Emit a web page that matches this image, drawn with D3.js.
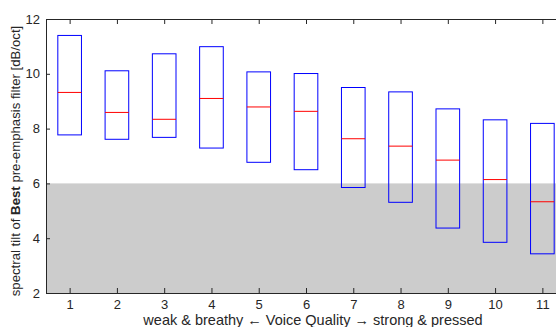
<!DOCTYPE html>
<html>
<head>
<meta charset="utf-8">
<script src="https://cdn.jsdelivr.net/npm/d3@7"></script>
<style>
  body { margin: 0; background: #fff; }
  svg { display: block; font-family: "Liberation Sans", Arial, sans-serif; }
</style>
</head>
<body>
<svg class="chart" width="556" height="327"></svg>
<script>
// Voice quality levels 1..11
const levels = [1, 2, 3, 4, 5, 6, 7, 8, 9, 10, 11];
// Box quartiles and medians [dB/oct]
const upper = [11.40, 10.11, 10.73, 10.99, 10.07, 10.01, 9.50, 9.34, 8.72, 8.32, 8.19];
const median = [9.32, 8.59, 8.34, 9.10, 8.79, 8.63, 7.63, 7.36, 6.85, 6.14, 5.33];
const lower = [7.77, 7.61, 7.68, 7.29, 6.77, 6.50, 5.85, 5.31, 4.37, 3.85, 3.43];
// Shaded band
const band = [2, 6];
const yTicks = [2, 4, 6, 8, 10, 12];

const margin = { top: 19, right: -10, bottom: 34, left: 46 };
const width = 556 - margin.left - margin.right;
const height = 327 - margin.top - margin.bottom;
const ink = '#262626';

const xScale = d3.scaleLinear().domain([0.5, 11.5]).range([0, width]);
const yScale = d3.scaleLinear().domain([2, 12]).range([height, 0]);
const boxHalf = xScale(1.25) - xScale(1);

const chart = d3.select('.chart')
  .append('g')
  .attr('transform', `translate(${margin.left},${margin.top})`);

// Shaded band
chart.append('rect')
  .attr('x', 0).attr('width', width)
  .attr('y', yScale(band[1])).attr('height', yScale(band[0]) - yScale(band[1]))
  .attr('fill', '#cccccc');

// Boxes
const boxes = chart.selectAll('.box')
  .data(levels.map((l, i) => ({ l, hi: upper[i], md: median[i], lo: lower[i] })))
  .enter().append('g').attr('class', 'box');

boxes.append('rect')
  .attr('x', d => xScale(d.l) - boxHalf)
  .attr('width', boxHalf * 2)
  .attr('y', d => yScale(d.hi))
  .attr('height', d => yScale(d.lo) - yScale(d.hi))
  .attr('fill', 'none').attr('stroke', '#0000ff').attr('stroke-width', 1);

boxes.append('line')
  .attr('x1', d => xScale(d.l) - boxHalf)
  .attr('x2', d => xScale(d.l) + boxHalf)
  .attr('y1', d => yScale(d.md)).attr('y2', d => yScale(d.md))
  .attr('stroke', '#ff0000').attr('stroke-width', 1);

// Axes (ticks inward, box on)
const xAxis = d3.axisBottom(xScale).tickValues(levels).tickSizeInner(-5).tickSizeOuter(0).tickPadding(7);
const xTop = d3.axisTop(xScale).tickValues(levels).tickSizeInner(-5).tickSizeOuter(0).tickFormat('');
const yAxis = d3.axisLeft(yScale).tickValues(yTicks).tickSizeInner(-4).tickSizeOuter(0).tickPadding(6);

function styleAxis(g) {
  g.select('.domain').attr('stroke', ink);
  g.selectAll('.tick line').attr('stroke', ink);
  g.selectAll('.tick text').attr('fill', ink).style('font-size', '13px')
    .style('font-family', '"Liberation Sans", Arial, sans-serif');
}

chart.append('g').attr('transform', `translate(0,${height})`).call(xAxis).call(styleAxis);
chart.append('g').call(xTop).call(styleAxis);
chart.append('g').call(yAxis).call(styleAxis);

// Axis labels
chart.append('text')
  .attr('x', 313 - margin.left).attr('y', height + 31.5)
  .attr('text-anchor', 'middle').attr('fill', ink).style('font-size', '14.5px')
  .text('weak & breathy \u2190 Voice Quality \u2192 strong & pressed');

const yl = chart.append('text')
  .attr('transform', `translate(${-26},${161 - margin.top}) rotate(-90)`)
  .attr('text-anchor', 'middle').attr('fill', ink).style('font-size', '13.2px');
yl.append('tspan').text('spectral tilt of ');
yl.append('tspan').attr('font-weight', 'bold').text('Best');
yl.append('tspan').text(' pre-emphasis filter [dB/oct]');
</script>
</body>
</html>
